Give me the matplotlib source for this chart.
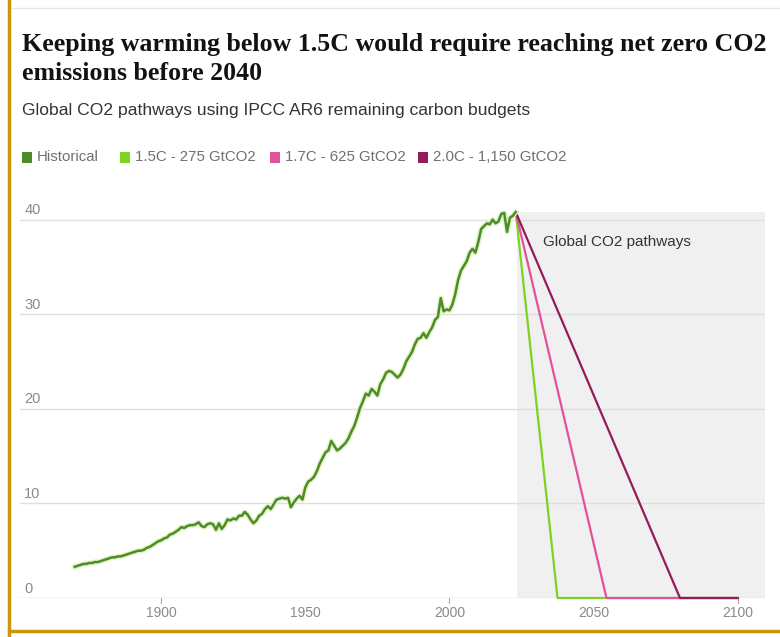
import matplotlib.pyplot as plt
from matplotlib.lines import Line2D
from matplotlib.patches import Rectangle

# Global CO2 emissions (GtCO2)
years = list(range(1870, 2024))
emissions = [
    3.3, 3.4, 3.5, 3.6, 3.6, 3.7, 3.7, 3.8, 3.8, 3.9,
    4.0, 4.1, 4.2, 4.3, 4.3, 4.4, 4.4, 4.5, 4.6, 4.7,
    4.8, 4.9, 5.0, 5.0, 5.1, 5.3, 5.4, 5.6, 5.8, 6.0,
    6.1, 6.3, 6.4, 6.7, 6.8, 7.0, 7.2, 7.5, 7.4, 7.6,
    7.7, 7.7, 7.8, 8.0, 7.6, 7.5, 7.8, 7.9, 7.8, 7.2,
    7.9, 7.3, 7.7, 8.3, 8.2, 8.4, 8.3, 8.7, 8.7, 9.1,
    8.8, 8.3, 7.9, 8.2, 8.7, 8.9, 9.4, 9.7, 9.4, 9.9,
    10.4, 10.5, 10.6, 10.5, 10.6, 9.6, 10.1, 10.5, 10.8, 10.4,
    11.7, 12.3, 12.5, 12.8, 13.4, 14.2, 14.8, 15.4, 15.6, 16.6,
    16.1, 15.6, 15.8, 16.1, 16.4, 16.9, 17.6, 18.2, 19.1, 20.1,
    20.8, 21.6, 21.4, 22.1, 21.8, 21.4, 22.6, 23.1, 23.8, 24.0,
    23.9, 23.6, 23.3, 23.6, 24.2, 25.0, 25.5, 26.0, 26.8, 27.4,
    27.5, 28.0, 27.5, 28.1, 28.6, 29.4, 29.7, 31.7, 30.3, 30.5,
    30.4, 31.0, 32.1, 33.6, 34.6, 35.1, 35.6, 36.5, 36.9, 36.5,
    37.6, 39.0, 39.3, 39.6, 39.5, 40.0, 39.6, 39.8, 40.6, 40.7,
    38.7, 40.2, 40.4, 40.8,
]

# straight-line pathways from 2023 down to net zero, then flat to 2100
pathway_labels = ["1.5C - 275 GtCO2", "1.7C - 625 GtCO2", "2.0C - 1,150 GtCO2"]
pathway_start = 2023
pathway_zero_years = [2037.5, 2054.5, 2080]
pathway_end = 2100

c_hist = "#4c8c2b"
pathway_colors = ["#7ed321", "#e0529c", "#951a5a"]

xticks = [1900, 1950, 2000, 2050, 2100]
yticks = [0, 10, 20, 30, 40]

fig = plt.figure(figsize=(7.8, 6.37), dpi=100)
fig.patch.set_facecolor("white")
ax = fig.add_axes([20 / 780, 1 - 598 / 637, 745 / 780, 386 / 637])
ax.set_xlim(1851, 2109.5)
ax.set_ylim(0, 40.8)
for s in ax.spines.values():
    s.set_visible(False)
ax.set_yticks([])
ax.set_xticks(xticks)
ax.set_xticklabels([str(t) for t in xticks], fontsize=10, color="#8a8a8a",
                   fontfamily="Liberation Sans")
ax.tick_params(axis="x", length=0, pad=6)

# small tick marks only at the centuries
for t in [1900, 2000, 2100]:
    ax.plot([t, t], [0, -0.55], color="#aaaaaa", lw=0.8, clip_on=False)

# gridlines + y labels sitting above them
for v in yticks:
    ax.axhline(v, color="#cccccc" if v == 0 else "#dedede", lw=1, zorder=1)
    ax.text(1852.5, v + 1.0, str(v), fontsize=10.5, color="#8a8a8a",
            ha="left", va="center", fontfamily="Liberation Sans")

# future shading
ax.axvspan(pathway_start + 0.5, 2109.5, color="#f0f0f0", zorder=0, lw=0)
ax.text(2032.4, 37.6, "Global CO2 pathways", fontsize=11, color="#333333",
        ha="left", va="center", fontfamily="Liberation Sans")

# pathways, 1.5C underneath, 2.0C on top
start_val = emissions[-1]
for zy, col in zip(pathway_zero_years, pathway_colors):
    ax.plot([pathway_start, zy, pathway_end], [start_val, 0, 0], color=col,
            lw=1.6, clip_on=False, zorder=3)

# historical
ax.plot(years, emissions, color="#e4f3c4", lw=3.8, zorder=3, clip_on=False)
ax.plot(years, emissions, color=c_hist, lw=1.8, zorder=4, clip_on=False)

# title / subtitle
fig.text(22 / 780, 1 - 44 / 637,
         "Keeping warming below 1.5C would require reaching net zero CO2",
         fontsize=18.6, fontweight="bold", fontfamily="Liberation Serif",
         color="#121212", ha="left", va="center")
fig.text(22 / 780, 1 - 73 / 637, "emissions before 2040",
         fontsize=18.6, fontweight="bold", fontfamily="Liberation Serif",
         color="#121212", ha="left", va="center")
fig.text(22 / 780, 1 - 110 / 637,
         "Global CO2 pathways using IPCC AR6 remaining carbon budgets",
         fontsize=12.6, fontfamily="Liberation Sans", color="#333333",
         ha="left", va="center")

# legend row
legend_labels = ["Historical"] + pathway_labels
legend_colors = [c_hist] + pathway_colors
legend_x = [22, 120, 270, 418]
for lx, lab, col in zip(legend_x, legend_labels, legend_colors):
    fig.patches.append(Rectangle((lx / 780, 1 - 163 / 637), 10 / 780, 11 / 637,
                                 transform=fig.transFigure, facecolor=col,
                                 edgecolor="none"))
    fig.text((lx + 15) / 780, 1 - 157 / 637, lab, fontsize=10.8,
             fontfamily="Liberation Sans", color="#707070",
             ha="left", va="center")

# frame: gold left and bottom rule, grey top rule
fig.add_artist(Line2D([9 / 780, 9 / 780], [0, 1], color="#c9960c", lw=2.5,
                      transform=fig.transFigure))
fig.add_artist(Line2D([9 / 780, 1], [1 - 631 / 637, 1 - 631 / 637],
                      color="#c9960c", lw=2.5, transform=fig.transFigure))
fig.add_artist(Line2D([12 / 780, 1], [1 - 8 / 637, 1 - 8 / 637],
                      color="#e6e6e6", lw=1, transform=fig.transFigure))

fig.savefig("out.png", dpi=100, facecolor="white")
